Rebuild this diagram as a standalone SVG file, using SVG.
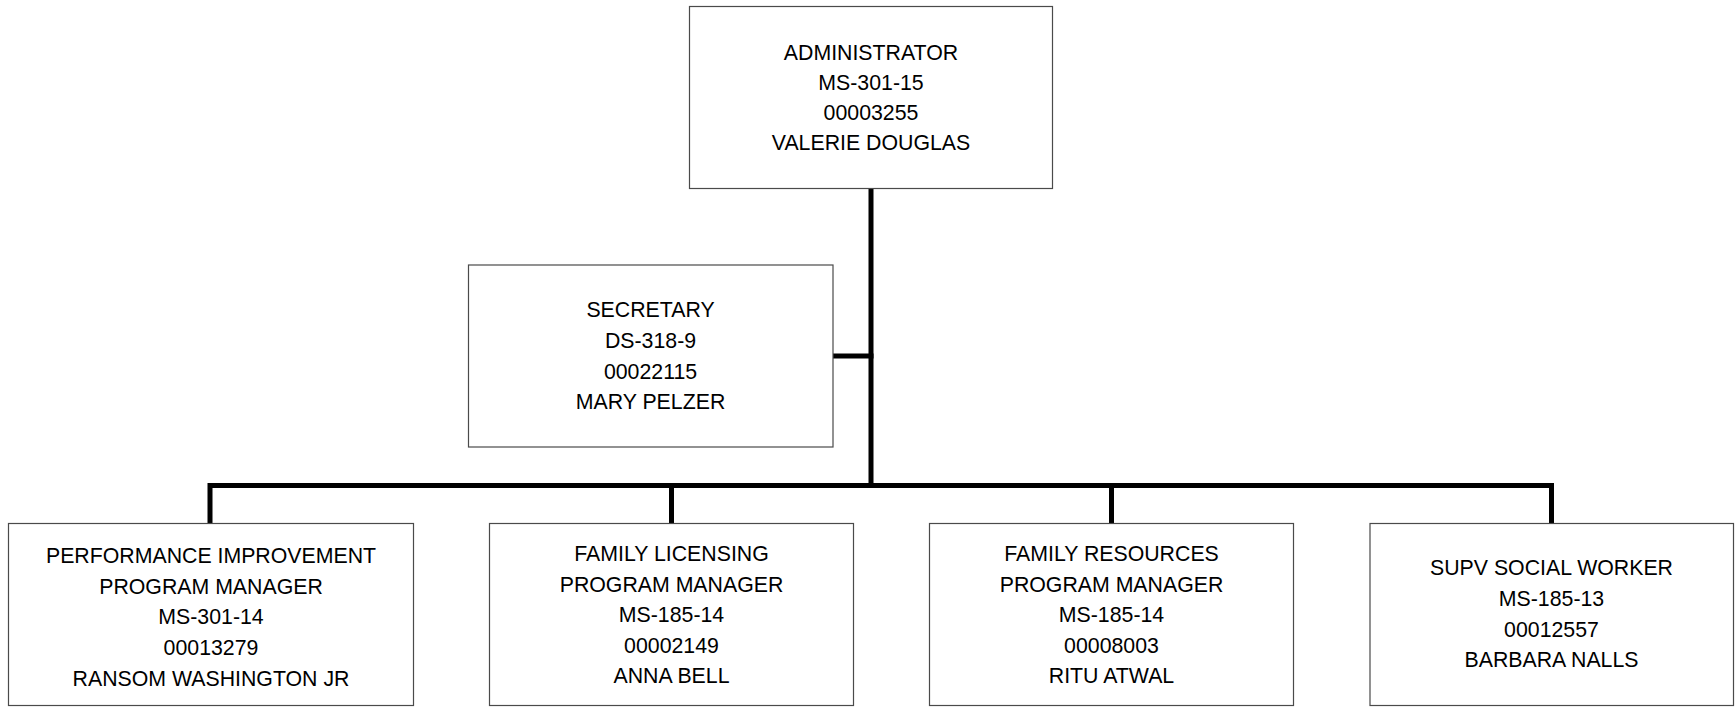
<svg xmlns="http://www.w3.org/2000/svg" width="1735" height="708" viewBox="0 0 1735 708">
  <style>
    .box { fill: #ffffff; stroke: #4a4a4a; stroke-width: 1.2; }
    .lbl { font-family: "Liberation Sans", Arial, sans-serif; font-size: 21.3px; fill: #000000; text-anchor: middle; }
    .wire { fill: none; stroke: #000000; stroke-width: 5; stroke-linejoin: miter; stroke-linecap: butt; }
  </style>
  <rect width="1735" height="708" fill="#ffffff"/>

  <!-- reporting lines -->
  <g id="connectors">
    <line class="wire" x1="871" y1="188.5" x2="871" y2="488"/>
    <line class="wire" x1="833" y1="356" x2="873.5" y2="356"/>
    <path class="wire" d="M210,523.5 V485.5 H1551.5 V523.5"/>
    <line class="wire" x1="671.5" y1="485.5" x2="671.5" y2="523.5"/>
    <line class="wire" x1="1111.5" y1="485.5" x2="1111.5" y2="523.5"/>
  </g>

  <g id="administrator">
    <rect class="box" x="689.5" y="6.5" width="363" height="182"/>
    <text class="lbl" x="871" y="60">ADMINISTRATOR</text>
    <text class="lbl" x="871" y="90">MS-301-15</text>
    <text class="lbl" x="871" y="120">00003255</text>
    <text class="lbl" x="871" y="150">VALERIE DOUGLAS</text>
  </g>

  <g id="secretary">
    <rect class="box" x="468.5" y="265" width="364.5" height="182"/>
    <text class="lbl" x="650.5" y="317">SECRETARY</text>
    <text class="lbl" x="650.5" y="348">DS-318-9</text>
    <text class="lbl" x="650.5" y="378.5">00022115</text>
    <text class="lbl" x="650.5" y="409">MARY PELZER</text>
  </g>

  <g id="performance-improvement">
    <rect class="box" x="8.5" y="523.5" width="405" height="182"/>
    <text class="lbl" x="211" y="562.5">PERFORMANCE IMPROVEMENT</text>
    <text class="lbl" x="211" y="593.5">PROGRAM MANAGER</text>
    <text class="lbl" x="211" y="624">MS-301-14</text>
    <text class="lbl" x="211" y="655">00013279</text>
    <text class="lbl" x="211" y="685.5">RANSOM WASHINGTON JR</text>
  </g>

  <g id="family-licensing">
    <rect class="box" x="489.5" y="523.5" width="364" height="182"/>
    <text class="lbl" x="671.5" y="561">FAMILY LICENSING</text>
    <text class="lbl" x="671.5" y="591.7">PROGRAM MANAGER</text>
    <text class="lbl" x="671.5" y="622">MS-185-14</text>
    <text class="lbl" x="671.5" y="652.7">00002149</text>
    <text class="lbl" x="671.5" y="683.3">ANNA BELL</text>
  </g>

  <g id="family-resources">
    <rect class="box" x="929.5" y="523.5" width="364" height="182"/>
    <text class="lbl" x="1111.5" y="561">FAMILY RESOURCES</text>
    <text class="lbl" x="1111.5" y="591.7">PROGRAM MANAGER</text>
    <text class="lbl" x="1111.5" y="622">MS-185-14</text>
    <text class="lbl" x="1111.5" y="652.7">00008003</text>
    <text class="lbl" x="1111.5" y="683.3">RITU ATWAL</text>
  </g>

  <g id="supv-social-worker">
    <rect class="box" x="1370" y="523.5" width="363.5" height="182"/>
    <text class="lbl" x="1551.5" y="575">SUPV SOCIAL WORKER</text>
    <text class="lbl" x="1551.5" y="606">MS-185-13</text>
    <text class="lbl" x="1551.5" y="636.7">00012557</text>
    <text class="lbl" x="1551.5" y="666.7">BARBARA NALLS</text>
  </g>
</svg>
